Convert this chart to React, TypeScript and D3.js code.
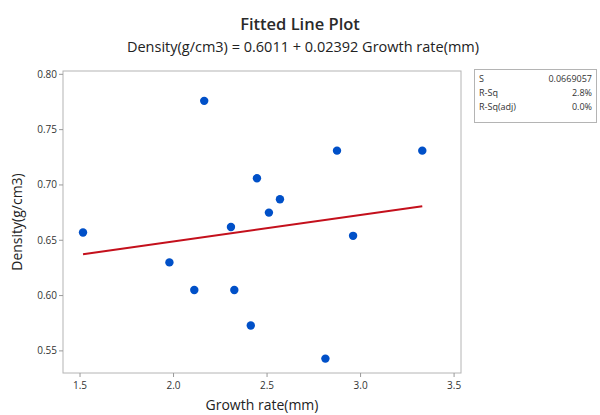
import * as d3 from 'd3';

const growthRate = [1.516, 2.164, 1.978, 2.111, 2.325, 2.307, 2.446, 2.51, 2.569, 2.413, 2.812, 2.874, 2.96, 3.33];
const density = [0.657, 0.776, 0.63, 0.605, 0.605, 0.662, 0.706, 0.675, 0.687, 0.573, 0.543, 0.731, 0.654, 0.731];
const xTicks = [1.5, 2.0, 2.5, 3.0, 3.5];
const yTicks = [0.55, 0.6, 0.65, 0.7, 0.75, 0.8];
const statLabels = ['S', 'R-Sq', 'R-Sq(adj)'];
const statValues = ['0.0669057', '2.8%', '0.0%'];
const intercept = 0.6011;
const slope = 0.02392;

const W = 600;
const H = 415;
const frame = { left: 63, top: 71, right: 461, bottom: 373 };
const font = '"Open Sans", "Noto Sans", sans-serif';

export default function App() {
  const x = d3.scaleLinear().domain([1.409, 3.537]).range([frame.left, frame.right]);
  const y = d3.scaleLinear().domain([0.53, 0.803]).range([frame.bottom, frame.top]);

  const [xMin, xMax] = d3.extent(growthRate) as [number, number];
  const fitLine = d3
    .line<number>()
    .x((v) => x(v))
    .y((v) => y(intercept + slope * v));

  return (
    <svg width={W} height={H} style={{ position: 'absolute', left: 0, top: 0, background: '#fff' }} fontFamily={font}>
      <text x={300} y={30} textAnchor="middle" fontSize={16.5} fontWeight={600} fill="#2a2a2a">
        Fitted Line Plot
      </text>
      <text x={303} y={52} textAnchor="middle" fontSize={14.5} fill="#222">
        Density(g/cm3) = 0.6011 + 0.02392 Growth rate(mm)
      </text>

      <rect
        x={frame.left}
        y={frame.top}
        width={frame.right - frame.left}
        height={frame.bottom - frame.top}
        fill="#fff"
        stroke="#b4b4b4"
        strokeWidth={1}
      />

      {yTicks.map((t) => (
        <g key={`y${t}`}>
          <line x1={frame.left - 4} x2={frame.left} y1={y(t)} y2={y(t)} stroke="#999" />
          <text x={frame.left - 6} y={y(t)} dy="0.35em" textAnchor="end" fontSize={10} fill="#333">
            {t.toFixed(2)}
          </text>
        </g>
      ))}
      {xTicks.map((t) => (
        <g key={`x${t}`}>
          <line x1={x(t)} x2={x(t)} y1={frame.bottom} y2={frame.bottom + 4} stroke="#999" />
          <text x={x(t)} y={frame.bottom + 16} textAnchor="middle" fontSize={10} fill="#333">
            {t.toFixed(1)}
          </text>
        </g>
      ))}

      <text x={262} y={410} textAnchor="middle" fontSize={14} fill="#222">
        Growth rate(mm)
      </text>
      <text transform={`translate(22, ${(frame.top + frame.bottom) / 2}) rotate(-90)`} textAnchor="middle" fontSize={14} fill="#222">
        Density(g/cm3)
      </text>

      <path d={fitLine([xMin, xMax]) ?? ''} fill="none" stroke="#c4101c" strokeWidth={2} />

      {growthRate.map((g, i) => (
        <circle key={i} cx={x(g)} cy={y(density[i])} r={4.2} fill="#0050c8" />
      ))}

      <rect x={474.5} y={69.5} width={122} height={53} fill="#fff" stroke="#b4b4b4" />
      {statLabels.map((label, i) => (
        <g key={label}>
          <text x={479} y={82 + i * 14} fontSize={9} fill="#333">
            {label}
          </text>
          <text x={592} y={82 + i * 14} textAnchor="end" fontSize={9} fill="#333">
            {statValues[i]}
          </text>
        </g>
      ))}
    </svg>
  );
}
